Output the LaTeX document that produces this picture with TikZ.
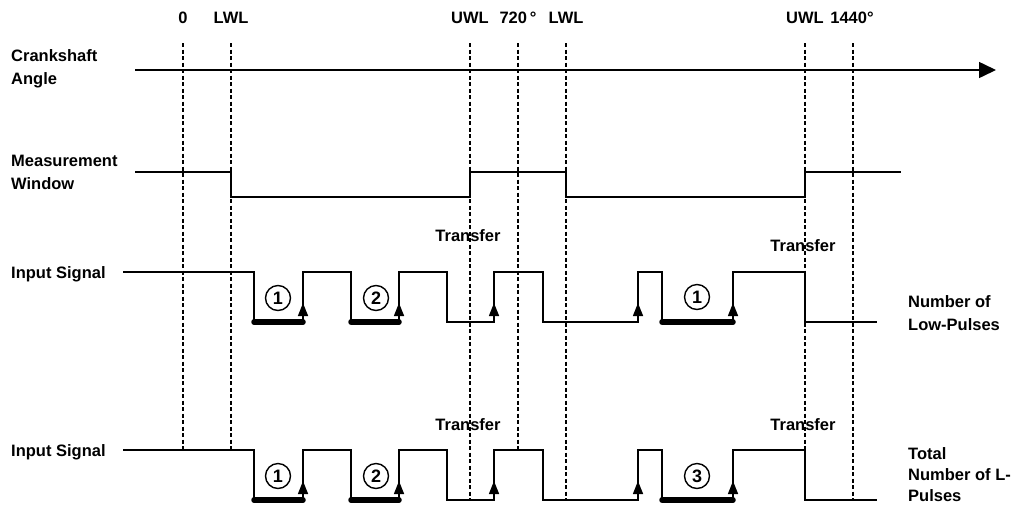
\documentclass[tikz,border=0pt]{standalone}
\usepackage{fontspec}
\setmainfont{Liberation Sans}
\usetikzlibrary{arrows.meta}
\tikzset{
  lbl/.style={font=\bfseries\fontsize{16.5}{23}\selectfont,align=left,inner sep=0pt},
  toplbl/.style={font=\bfseries\fontsize{16.5}{20}\selectfont,inner sep=0pt},
  guide/.style={line width=1.6pt,dash pattern=on 4pt off 2.5pt},
  sig/.style={line width=1.5pt},
  lowbar/.style={line width=5.5pt,line cap=round},
  rise/.style={line width=1.5pt,-{Triangle[length=13pt,width=10pt]}},
  axis/.style={line width=1.5pt,-{Triangle[length=17pt,width=16pt]}},
  cnt/.style={circle,draw,line width=1.4pt,minimum size=25pt,inner sep=0pt,font=\bfseries\fontsize{18}{18}\selectfont}
}

\begin{document}
\begin{tikzpicture}[x=1pt,y=-1pt]
\useasboundingbox (0,0) rectangle (1016,504);
% reference lines
\foreach \x/\e in {183/450,231/450,470/500,518/450,566/500,805/500,853/500} \draw[guide] (\x,43)--(\x,\e);
\node[toplbl] (n0) at (183,18) {0}; \node[toplbl] (lwla) at (231,18) {LWL};
\node[toplbl] (uwla) at (470,18) {UWL}; \node[toplbl] (deg720) at (518,18) {720\,°}; \node[toplbl] (lwlb) at (566,18) {LWL};
\node[toplbl] (uwlb) at (805,18) {UWL}; \node[toplbl] (deg1440) at (852,18) {1440°};
% crankshaft angle
\node[lbl,anchor=west] (crank) at (11,69) {Crankshaft\\Angle};
\coordinate (ca0) at (135,70); \coordinate (ca1) at (996,70);
\draw[axis] (ca0)--(ca1);
% measurement window
\node[lbl,anchor=west] (mwin) at (11,172) {Measurement\\Window};
\draw[sig] (135,172) -| (231,197) -| (470,172) -| (566,197) -| (805,172) -- (901,172);
% input signals
\foreach \h/\l/\r in {272/322/a,450/500/b}{
  \draw[sig] (123,\h) -| (254,\l) -| (303,\h) -| (351,\l) -| (399,\h) -| (447,\l) -| (494,\h) -| (543,\l)
    -| (638,\h) -| (662,\l) -| (733,\h) -| (805,\l) -- (877,\l);
  \foreach \a/\b in {254/303,351/399,662/733} \draw[lowbar] (\a,\l)--(\b,\l);
  \foreach \x in {303,399,494,638,733} \draw[rise] (\x,\l)--(\x,\l-19);
  \node[lbl,anchor=west] (in\r) at (11,\h+2) {Input Signal};
  \node[cnt] (c1\r) at (278,\h+26) {1};
  \node[cnt] (c2\r) at (376,\h+26) {2};
}
\node[cnt] (c3a) at (697,297) {1}; \node[cnt] (c3b) at (697,476) {3};
\node[toplbl] (tr1a) at (468,236) {Transfer}; \node[toplbl] (tr2a) at (803,246) {Transfer};
\node[toplbl] (tr1b) at (468,425) {Transfer}; \node[toplbl] (tr2b) at (803,425) {Transfer};
\node[lbl,anchor=west] (nlow) at (908,313) {Number of\\Low-Pulses};
\node[lbl,anchor=west,font=\bfseries\fontsize{16.5}{21}\selectfont] (ntot) at (908,475) {Total\\Number of L-\\Pulses};
\end{tikzpicture}
\end{document}
